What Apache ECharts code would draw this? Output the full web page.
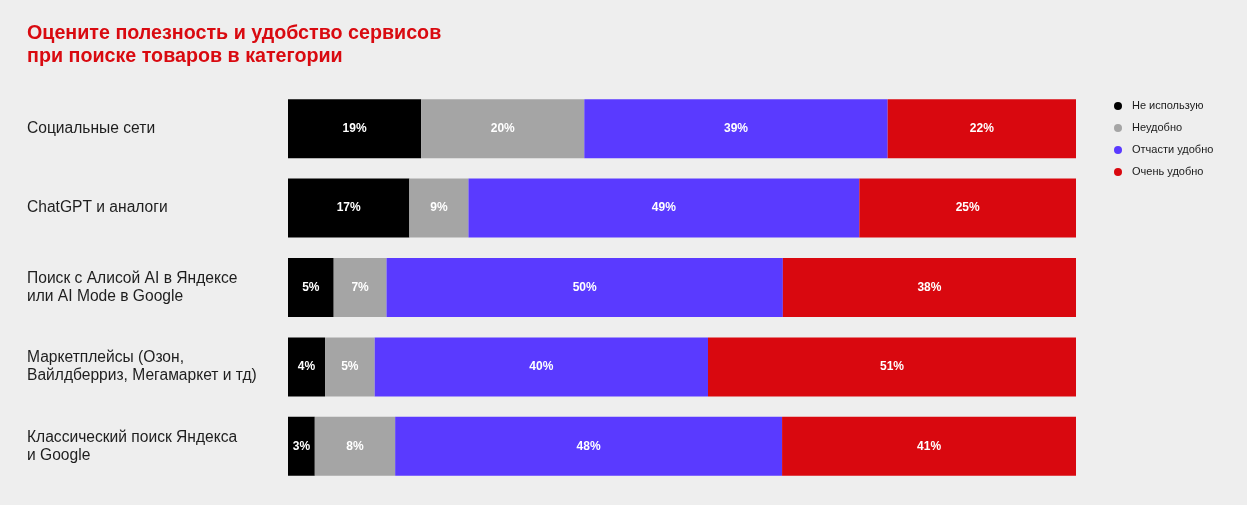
<!DOCTYPE html>
<html>
<head>
<meta charset="utf-8">
<script src="https://cdn.jsdelivr.net/npm/echarts@6/dist/echarts.min.js"></script>
<style>
html, body { margin: 0; padding: 0; background: #eeeeee; }
#container { width: 1247px; height: 505px; }
</style>
</head>
<body>
<div id="container"></div>
<script>
var categories = [
    'Социальные сети',
    'ChatGPT и аналоги',
    'Поиск с Алисой AI в Яндексе\nили AI Mode в Google',
    'Маркетплейсы (Озон,\nВайлдберриз, Мегамаркет и тд)',
    'Классический поиск Яндекса\nи Google'
];
var seriesNames = ['Не использую', 'Неудобно', 'Отчасти удобно', 'Очень удобно'];

// printed percentages
var notUsingLabels = [19, 17, 5, 4, 3];
var inconvenientLabels = [20, 9, 7, 5, 8];
var partlyLabels = [39, 49, 50, 40, 48];
var veryLabels = [22, 25, 38, 51, 41];

// segment lengths as drawn in the picture (share of the bar)
var notUsingShare = [16.9, 15.4, 5.8, 4.7, 3.4];
var inconvenientShare = [20.7, 7.5, 6.7, 6.3, 10.2];
var partlyShare = [38.5, 49.6, 50.3, 42.3, 49.1];
var veryShare = [23.9, 27.5, 37.2, 46.7, 37.3];

var colors = ['#000000', '#a5a5a5', '#5a3aff', '#d9080f'];

var dom = document.getElementById('container');
var myChart = echarts.init(dom);

function makeSeries(i, shares, labels) {
    return {
        name: seriesNames[i],
        type: 'bar',
        stack: 'total',
        barWidth: 59,
        itemStyle: { color: colors[i] },
        label: {
            show: true,
            position: 'inside',
            color: '#ffffff',
            fontFamily: 'Liberation Sans, Arial, sans-serif',
            fontWeight: 'bold',
            fontSize: 12,
            formatter: function (p) {
                return labels[p.dataIndex] + '%';
            }
        },
        emphasis: { disabled: true },
        data: shares
    };
}

var option = {
    backgroundColor: '#eeeeee',
    animation: false,
    color: colors,
    title: {
        text: 'Оцените полезность и удобство сервисов\nпри поиске товаров в категории',
        left: 22,
        top: 17,
        textStyle: {
            color: '#d90a10',
            fontFamily: 'Liberation Sans, Arial, sans-serif',
            fontWeight: 'bold',
            fontSize: 19.7,
            lineHeight: 23
        }
    },
    legend: {
        orient: 'vertical',
        left: 1109,
        top: 94,
        icon: 'circle',
        itemWidth: 8,
        itemHeight: 8,
        itemGap: 8,
        selectedMode: false,
        textStyle: {
            color: '#1a1a1a',
            fontFamily: 'Liberation Sans, Arial, sans-serif',
            fontSize: 11,
            lineHeight: 14,
            padding: [0, 0, 0, 5]
        },
        data: seriesNames
    },
    grid: {
        left: 288,
        right: 171,
        top: 89,
        bottom: 19
    },
    xAxis: {
        type: 'value',
        min: 0,
        max: 100,
        show: false
    },
    yAxis: {
        type: 'category',
        inverse: true,
        data: categories,
        axisLine: { show: false },
        axisTick: { show: false },
        splitLine: { show: false },
        axisLabel: {
            align: 'left',
            margin: 261,
            color: '#1e1e1e',
            fontFamily: 'Liberation Sans, Arial, sans-serif',
            fontSize: 15.6,
            lineHeight: 18
        }
    },
    series: [
        makeSeries(0, notUsingShare, notUsingLabels),
        makeSeries(1, inconvenientShare, inconvenientLabels),
        makeSeries(2, partlyShare, partlyLabels),
        makeSeries(3, veryShare, veryLabels)
    ]
};

if (option && typeof option === 'object') {
    myChart.setOption(option, true);
}
</script>
</body>
</html>
